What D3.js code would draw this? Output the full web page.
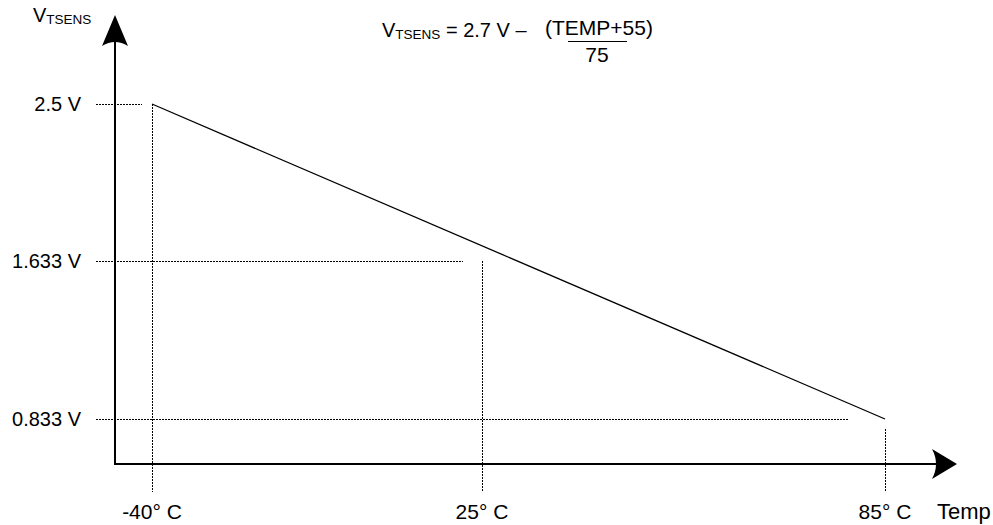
<!DOCTYPE html>
<html>
<head>
<meta charset="utf-8">
<script src="https://cdn.jsdelivr.net/npm/d3@7"></script>
<style>
  html, body { margin: 0; padding: 0; background: #fff; }
  svg { display: block; }
  text { font-family: "Liberation Sans", Arial, sans-serif; fill: #000; }
</style>
</head>
<body>
<svg id="chart" width="993" height="525"></svg>
<script>
// ---- data ----
const temps = [-40, 25, 85];
const tempLabels = ["-40° C", "25° C", "85° C"];
const volts = [2.5, 1.633, 0.833];
const voltLabels = ["2.5 V", "1.633 V", "0.833 V"];
const lineTemps = [-40, 85];
const lineVolts = [2.5, 0.833];
const xTitle = "Temp";
const yTitleMain = "V";
const yTitleSub = "TSENS";

// ---- layout ----
const W = 993, H = 525;
const axisX = 115, axisY = 464, topTip = 15, rightTip = 957;
const guideLeft = 96, guideBottom = 492;
const hGaps = [10, 19, 37];
const vGaps = [0, 0, 10];
const fontSize = 20, subSize = 13.5, xFont = 21;

const svg = d3.select("#chart");

const x = d3.scaleLinear().domain(temps).range([152, 482, 885]);
const y = d3.scaleLinear().domain(volts).range([104, 261, 419]);

// dotted guides
const g = svg.append("g").attr("stroke", "#000").attr("stroke-width", 1)
  .attr("stroke-dasharray", "2,1").attr("fill", "none")
  .attr("shape-rendering", "crispEdges");
volts.forEach((v, i) => {
  g.append("line")
    .attr("x1", guideLeft).attr("x2", x(temps[i]) - hGaps[i])
    .attr("y1", y(v) + 0.5).attr("y2", y(v) + 0.5);
});
temps.forEach((t, i) => {
  g.append("line")
    .attr("x1", x(t) + 0.5).attr("x2", x(t) + 0.5)
    .attr("y1", y(volts[i]) + vGaps[i]).attr("y2", guideBottom);
});

// axes
svg.append("line").attr("x1", axisX).attr("x2", axisX)
  .attr("y1", axisY + 1).attr("y2", topTip + 20)
  .attr("stroke", "#000").attr("stroke-width", 2);
svg.append("line").attr("x1", axisX - 1).attr("x2", rightTip - 15)
  .attr("y1", axisY).attr("y2", axisY)
  .attr("stroke", "#000").attr("stroke-width", 2);
// arrowheads
svg.append("path")
  .attr("d", `M${axisX},${topTip} L${axisX + 13},${topTip + 31} Q${axisX},${topTip + 23} ${axisX - 13},${topTip + 31} Z`)
  .attr("fill", "#000");
svg.append("path")
  .attr("d", `M${rightTip},${axisY} L${rightTip - 25},${axisY - 15} Q${rightTip - 17},${axisY} ${rightTip - 25},${axisY + 15} Z`)
  .attr("fill", "#000");

// main line
const line = d3.line().x(d => x(d[0])).y(d => y(d[1]));
svg.append("path")
  .datum(lineTemps.map((t, i) => [t, lineVolts[i]]))
  .attr("d", line)
  .attr("fill", "none").attr("stroke", "#000").attr("stroke-width", 1.3);

// y labels
svg.selectAll("text.ylab").data(volts).join("text")
  .attr("class", "ylab")
  .attr("x", 81).attr("y", d => y(d) + 7)
  .attr("text-anchor", "end").attr("font-size", fontSize)
  .text((d, i) => voltLabels[i]);

// x labels
svg.selectAll("text.xlab").data(temps).join("text")
  .attr("class", "xlab")
  .attr("x", d => x(d)).attr("y", 519)
  .attr("text-anchor", "middle").attr("font-size", xFont)
  .text((d, i) => tempLabels[i]);

svg.append("text").attr("x", 937).attr("y", 519)
  .attr("font-size", 22).text(xTitle);

// y title
const yt = svg.append("text").attr("x", 33).attr("y", 22).attr("font-size", fontSize);
yt.append("tspan").text(yTitleMain);
yt.append("tspan").attr("font-size", subSize).attr("dy", 2).text(yTitleSub);

// formula
const f = svg.append("text").attr("x", 382).attr("y", 37).attr("font-size", fontSize);
f.append("tspan").text("V");
f.append("tspan").attr("font-size", subSize).attr("dy", 2).text("TSENS");
f.append("tspan").attr("dy", -2).text(" = 2.7 V –");
svg.append("text").attr("x", 599).attr("y", 35).attr("text-anchor", "middle")
  .attr("font-size", 21).text("(TEMP+55)");
svg.append("line").attr("x1", 568).attr("x2", 627).attr("y1", 41.5).attr("y2", 41.5)
  .attr("stroke", "#000").attr("stroke-width", 1);
svg.append("text").attr("x", 597).attr("y", 62).attr("text-anchor", "middle")
  .attr("font-size", 21).text("75");
</script>
</body>
</html>
